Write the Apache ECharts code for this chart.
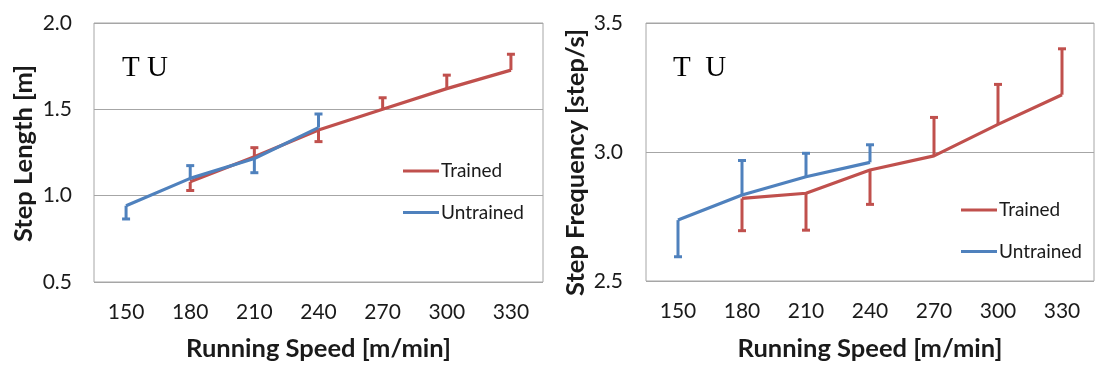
<!DOCTYPE html>
<html>
<head>
<meta charset="utf-8">
<title>Step length and step frequency vs running speed</title>
<script src="https://cdn.jsdelivr.net/npm/echarts@6/dist/echarts.min.js"></script>
<style>
  html, body { margin: 0; padding: 0; background: #ffffff; }
  #chart { width: 1095px; height: 365px; }
</style>
</head>
<body>
<div id="chart"></div>
<script>
// Running speeds [m/min]
const speeds = ['150', '180', '210', '240', '270', '300', '330'];

// Step length [m]: group means and the end of each one-sided error bar
const lengthTrained        = ['-', 1.08, 1.225, 1.38, 1.50, 1.62, 1.727];
const lengthTrainedBarEnd  = [null, 1.03, 1.278, 1.313, 1.567, 1.698, 1.819];
const lengthUntrained      = [0.942, 1.10, 1.215, 1.394];
const lengthUntrainedBarEnd = [0.865, 1.174, 1.133, 1.473];

// Step frequency [step/s]
const freqTrained          = ['-', 2.82, 2.84, 2.93, 2.985, 3.107, 3.222];
const freqTrainedBarEnd    = [null, 2.695, 2.697, 2.797, 3.134, 3.262, 3.40];
const freqUntrained        = [2.736, 2.833, 2.904, 2.96];
const freqUntrainedBarEnd  = [2.594, 2.967, 2.995, 3.028];

// Axis ranges and tick labels
const lengthTicks = [0.5, 1.0, 1.5, 2.0];
const freqTicks = [2.5, 3.0, 3.5];

const RED = '#C0504D';
const BLUE = '#4F81BD';
const GRID_GRAY = '#A6A6A6';
const TEXT = '#1a1a1a';
const SANS = 'Lato, "Liberation Sans", sans-serif';

function barData(means, ends) {
  const out = [];
  means.forEach((m, i) => {
    if (m !== '-' && ends[i] != null) out.push([i, m, ends[i]]);
  });
  return out;
}

function errorBars(name, color, xi, yi, data) {
  return {
    type: 'custom',
    name: name,
    xAxisIndex: xi,
    yAxisIndex: yi,
    data: data,
    silent: true,
    renderItem: function (params, api) {
      const p0 = api.coord([api.value(0), api.value(1)]);
      const p1 = api.coord([api.value(0), api.value(2)]);
      const half = 4;
      const style = { stroke: color, lineWidth: 3, fill: null };
      return {
        type: 'group',
        children: [
          { type: 'line', shape: { x1: p0[0], y1: p0[1], x2: p1[0], y2: p1[1] }, style: style },
          { type: 'line', shape: { x1: p1[0] - half, y1: p1[1], x2: p1[0] + half, y2: p1[1] }, style: style }
        ]
      };
    }
  };
}

function meanLine(name, color, xi, yi, data) {
  return {
    type: 'line',
    name: name,
    xAxisIndex: xi,
    yAxisIndex: yi,
    data: data,
    symbol: 'none',
    lineStyle: { color: color, width: 3.2 },
    itemStyle: { color: color },
    connectNulls: false,
    animation: false
  };
}

function xAxisFor(gridIndex) {
  return {
    type: 'category',
    gridIndex: gridIndex,
    data: speeds,
    boundaryGap: true,
    axisLine: { show: false },
    axisTick: { show: false },
    axisLabel: { color: TEXT, fontFamily: SANS, fontSize: 21, margin: 20 },
    splitLine: { show: false }
  };
}

function yAxisFor(gridIndex, ticks, margin) {
  return {
    type: 'value',
    gridIndex: gridIndex,
    min: ticks[0],
    max: ticks[ticks.length - 1],
    interval: ticks[1] - ticks[0],
    axisLine: { show: false },
    axisTick: { show: false },
    axisLabel: {
      color: TEXT, fontFamily: SANS, fontSize: 21, margin: margin,
      formatter: v => v.toFixed(1)
    },
    splitLine: { show: true, lineStyle: { color: GRID_GRAY, width: 1 } }
  };
}

// Legend rows are 20px tall; the swatch is a short thick bar like the series line
function legendAt(left, firstRowCenter) {
  return {
    orient: 'vertical',
    left: left,
    top: firstRowCenter - 10,
    padding: 0,
    data: ['Trained', 'Untrained'],
    icon: 'rect',
    itemWidth: 36,
    itemHeight: 3,
    itemGap: 21.4,
    selectedMode: false,
    textStyle: { color: TEXT, fontFamily: SANS, fontSize: 19, lineHeight: 20, padding: [0, 0, 0, -3] }
  };
}

function label(text, x, y, opts) {
  return Object.assign({
    type: 'text',
    x: x,
    y: y,
    style: {
      text: text,
      fill: TEXT,
      font: 'bold 25.5px ' + SANS,
      align: 'center',
      verticalAlign: 'middle'
    }
  }, opts || {});
}

const option = {
  backgroundColor: '#ffffff',
  animation: false,
  grid: [
    { left: 94, right: 552, top: 23, bottom: 83, show: true, borderColor: GRID_GRAY, borderWidth: 1, containLabel: false },
    { left: 646, right: 1, top: 23, bottom: 84, show: true, borderColor: GRID_GRAY, borderWidth: 1, containLabel: false }
  ],
  xAxis: [xAxisFor(0), xAxisFor(1)],
  yAxis: [yAxisFor(0, lengthTicks, 22), yAxisFor(1, freqTicks, 23)],
  legend: [legendAt(403, 171), legendAt(961, 210)],
  series: [
    meanLine('Trained', RED, 0, 0, lengthTrained),
    errorBars('Trained SD', RED, 0, 0, barData(lengthTrained, lengthTrainedBarEnd)),
    meanLine('Untrained', BLUE, 0, 0, lengthUntrained),
    errorBars('Untrained SD', BLUE, 0, 0, barData(lengthUntrained, lengthUntrainedBarEnd)),

    meanLine('Trained', RED, 1, 1, freqTrained),
    errorBars('Trained SD', RED, 1, 1, barData(freqTrained, freqTrainedBarEnd)),
    meanLine('Untrained', BLUE, 1, 1, freqUntrained),
    errorBars('Untrained SD', BLUE, 1, 1, barData(freqUntrained, freqUntrainedBarEnd))
  ],
  graphic: [
    // axis titles
    label('Running Speed [m/min]', 318.5, 349),
    label('Running Speed [m/min]', 870, 349),
    label('Step Length [m]', 24, 153.5, { rotation: Math.PI / 2 }),
    label('Step Frequency [step/s]', 576, 162.5, { rotation: Math.PI / 2 }),
    // group markers inside each plot
    {
      type: 'text', x: 122, y: 68,
      style: { text: 'T U', fill: '#000000', font: '29px "Liberation Serif", serif', verticalAlign: 'middle' }
    },
    {
      type: 'text', x: 673, y: 68,
      style: { text: 'T  U', fill: '#000000', font: '29px "Liberation Serif", serif', verticalAlign: 'middle' }
    }
  ]
};

const chart = echarts.init(document.getElementById('chart'), null, { renderer: 'canvas' });
chart.setOption(option);
</script>
</body>
</html>
